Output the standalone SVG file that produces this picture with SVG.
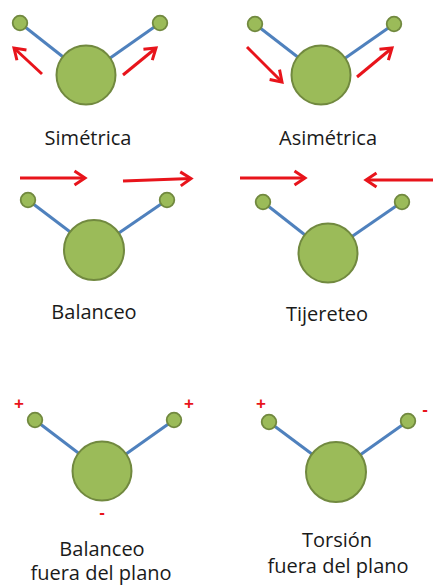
<svg xmlns="http://www.w3.org/2000/svg" width="433" height="586" viewBox="0 0 433 586">
  <defs>
    <style>
      .bond { stroke: #4F81BD; stroke-width: 3; fill: none; }
      .big { fill: #9BBB59; stroke: #71893F; stroke-width: 2; }
      .small { fill: #9BBB59; stroke: #71893F; stroke-width: 1.8; }
      .arrow { stroke: #E8141B; stroke-width: 3; fill: none; marker-end: url(#head); }
      .label { font-family: "Open Sans", "Noto Sans", sans-serif; font-size: 20px; fill: #1a1a1a; text-anchor: middle; }
      .sign { font-family: "Liberation Sans", Arial, sans-serif; font-size: 17px; font-weight: bold; fill: #E8141B; text-anchor: middle; }
    </style>
    <marker id="head" markerUnits="userSpaceOnUse" markerWidth="16" markerHeight="16" refX="11" refY="7" orient="auto" overflow="visible">
      <path d="M0.5,0 L11,7 L0.5,14" fill="none" stroke="#E8141B" stroke-width="3" stroke-linejoin="miter"/>
    </marker>
  </defs>

  <g id="connectors">
    <!-- bonds -->
    <line class="bond" x1="20" y1="23" x2="86" y2="75"/>
    <line class="bond" x1="160" y1="23" x2="86" y2="75"/>
    <line class="bond" x1="255" y1="24" x2="321" y2="75"/>
    <line class="bond" x1="394" y1="24" x2="321" y2="75"/>
    <line class="bond" x1="28" y1="200" x2="94" y2="250"/>
    <line class="bond" x1="167" y1="200" x2="94" y2="250"/>
    <line class="bond" x1="263" y1="202" x2="328" y2="253"/>
    <line class="bond" x1="402" y1="202" x2="328" y2="253"/>
    <line class="bond" x1="35" y1="420" x2="102" y2="471"/>
    <line class="bond" x1="174" y1="420" x2="102" y2="471"/>
    <line class="bond" x1="269" y1="422" x2="336" y2="472"/>
    <line class="bond" x1="408" y1="421" x2="336" y2="472"/>
    <!-- motion arrows -->
    <line class="arrow" x1="42" y1="74" x2="14" y2="48"/>
    <line class="arrow" x1="123" y1="75" x2="156" y2="48"/>
    <line class="arrow" x1="247" y1="47" x2="282" y2="82"/>
    <line class="arrow" x1="357" y1="77" x2="392" y2="48"/>
    <line class="arrow" x1="20" y1="178" x2="85" y2="178"/>
    <line class="arrow" x1="123" y1="181" x2="191" y2="178.5"/>
    <line class="arrow" x1="240" y1="178" x2="305" y2="178"/>
    <line class="arrow" x1="436" y1="180" x2="366" y2="180"/>
  </g>

  <g id="simetrica">
    <circle class="big" cx="86" cy="75" r="29.5"/>
    <circle class="small" cx="20" cy="23" r="7.3"/>
    <circle class="small" cx="160" cy="23" r="7.3"/>
    <text class="label" x="88" y="145">Simétrica</text>
  </g>

  <g id="asimetrica">
    <circle class="big" cx="321" cy="75" r="29.5"/>
    <circle class="small" cx="255" cy="24" r="7.3"/>
    <circle class="small" cx="394" cy="24" r="7.3"/>
    <text class="label" x="328" y="145">Asimétrica</text>
  </g>

  <g id="balanceo">
    <circle class="big" cx="94" cy="250" r="30"/>
    <circle class="small" cx="28" cy="200" r="7.3"/>
    <circle class="small" cx="167" cy="200" r="7.3"/>
    <text class="label" x="94" y="319">Balanceo</text>
  </g>

  <g id="tijereteo">
    <circle class="big" cx="328" cy="253" r="29.5"/>
    <circle class="small" cx="263" cy="202" r="7.3"/>
    <circle class="small" cx="402" cy="202" r="7.3"/>
    <text class="label" x="327" y="321">Tijereteo</text>
  </g>

  <g id="balanceo-fuera">
    <circle class="big" cx="102" cy="471" r="29.5"/>
    <circle class="small" cx="35" cy="420" r="7.3"/>
    <circle class="small" cx="174" cy="420" r="7.3"/>
    <text class="sign" x="19" y="409">+</text>
    <text class="sign" x="189" y="409">+</text>
    <text class="sign" x="102" y="518">-</text>
    <text class="label" x="102" y="556">Balanceo</text>
    <text class="label" x="101" y="580">fuera del plano</text>
  </g>

  <g id="torsion-fuera">
    <circle class="big" cx="336" cy="472" r="30"/>
    <circle class="small" cx="269" cy="422" r="7.3"/>
    <circle class="small" cx="408" cy="421" r="7.3"/>
    <text class="sign" x="261" y="409">+</text>
    <text class="sign" x="425" y="415">-</text>
    <text class="label" x="337" y="547">Torsión</text>
    <text class="label" x="338" y="573">fuera del plano</text>
  </g>
</svg>
